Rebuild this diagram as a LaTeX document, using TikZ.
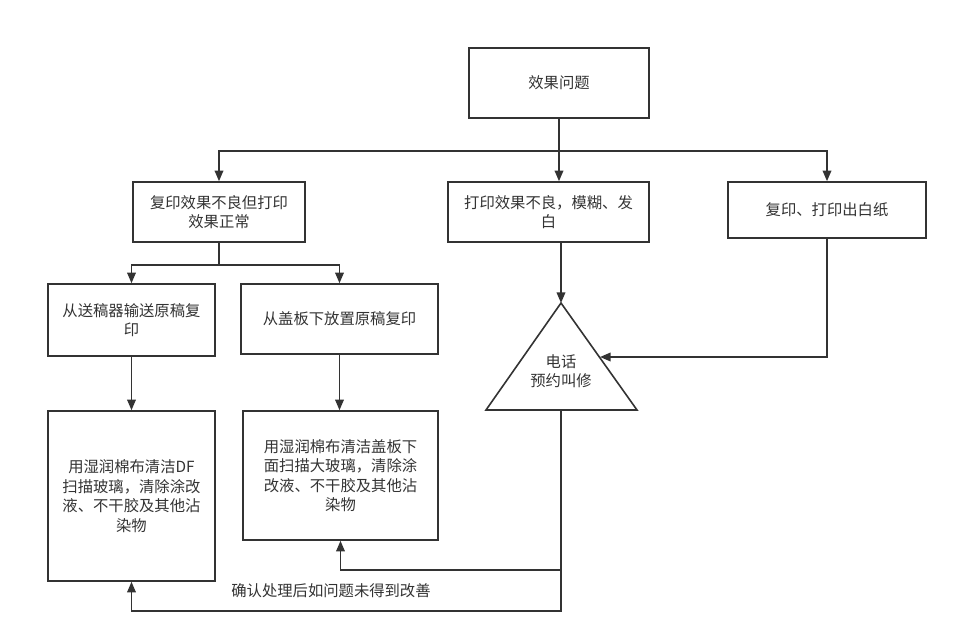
\documentclass[tikz,border=0pt]{standalone}
\usepackage{fontspec}
\setmainfont{Noto Sans CJK SC}
\usetikzlibrary{positioning,arrows.meta,calc}
\definecolor{linegray}{HTML}{333333}
\tikzset{
  box/.style={draw=linegray, line width=1.2pt, text=linegray, align=center, inner sep=2pt, font=\fontsize{11.5}{14.6}\selectfont},
  label/.style={text=linegray, align=center, inner sep=1pt, font=\fontsize{11.5}{14.6}\selectfont},
  flow/.style={draw=linegray, line width=1.2pt, -{Triangle[length=8pt,width=6.5pt]}},
  plain/.style={draw=linegray, line width=1.2pt, line join=miter}
}

\begin{document}
\begin{tikzpicture}[x=0.75pt,y=-0.75pt]
    \useasboundingbox (0,0) rectangle (958,642);
    \node[box, minimum width=135pt, minimum height=52.5pt] (problem) at (559,83) {效果问题};
    \node[box, minimum width=129pt, minimum height=45pt] (copyBad) at (219,212) {复印效果不良但打印\\效果正常};
    \node[box, minimum width=150.75pt, minimum height=45pt] (printBad) at (548.5,212) {打印效果不良，模糊、发\\白};
    \node[box, minimum width=148.5pt, minimum height=42pt] (blankPaper) at (827,210) {复印、打印出白纸};
    \node[box, minimum width=125.25pt, minimum height=54pt] (feeder) at (131.5,320) {从送稿器输送原稿复\\印};
    \node[box, minimum width=147.75pt, minimum height=52.5pt] (platen) at (339.5,319) {从盖板下放置原稿复印};
    \node[box, minimum width=125.25pt, minimum height=127.5pt] (cleanDF) at (131.5,496) {用湿润棉布清洁DF\\扫描玻璃，清除涂改\\液、不干胶及其他沾\\染物};
    \node[box, minimum width=146.25pt, minimum height=96.75pt] (cleanGlass) at (340.5,475.5) {用湿润棉布清洁盖板下\\面扫描大玻璃，清除涂\\改液、不干胶及其他沾\\染物};

    % service triangle
    \coordinate (apex) at (561,303);
    \coordinate (baseL) at (486,410);
    \coordinate (baseR) at (637,410);
    \draw[plain] (apex) -- (baseR) -- (baseL) -- cycle;
    \node[label] (service) at (561,371) {电话\\预约叫修};
    \coordinate (serviceIn) at (600,357);
    \coordinate (serviceOut) at (561,410);

    \draw[flow] (problem.south) -- ++(0,32) -| (copyBad.north);
    \draw[flow] (problem.south) -- ++(0,32) -| (blankPaper.north);
    \draw[flow] (problem.south) -- (problem.south |- printBad.north);
    \draw[flow] (copyBad.south) -- ++(0,22) -| (feeder.north);
    \draw[flow] (copyBad.south) -- ++(0,22) -| (platen.north);
    \draw[flow] (feeder) -- (cleanDF);
    \draw[flow] (platen.south) -- (platen.south |- cleanGlass.north);
    \draw[flow] (apex |- printBad.south) -- (apex);
    \draw[flow] (blankPaper.south) |- (serviceIn);
    \draw[flow] (serviceOut) -- ++(0,201) -| (cleanDF.south);
    \draw[flow] (serviceOut) -- ++(0,160) -| (cleanGlass.south);
    \node[label] (note) at (331,591) {确认处理后如问题未得到改善};
\end{tikzpicture}
\end{document}
